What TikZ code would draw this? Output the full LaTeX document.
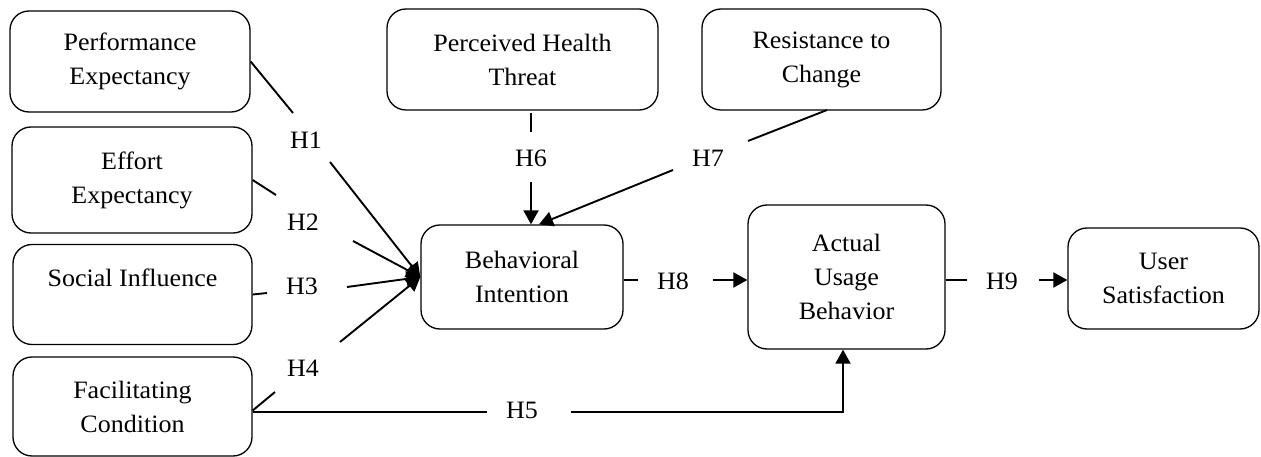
\documentclass[tikz,border=0pt]{standalone}
\usepackage{fontspec}
\setmainfont{Liberation Serif}[FakeStretch=1.04]
\usetikzlibrary{arrows.meta}
\begin{document}
\begin{tikzpicture}[x=1pt,y=-1pt,
  box/.style={draw, line width=1.3pt, rounded corners=19pt, align=center, inner sep=0pt,
    font=\fontsize{25}{34}\selectfont},
  hlab/.style={inner sep=0pt, font=\fontsize{25}{34}\selectfont},
  ln/.style={line width=1.9pt},
  arr/.style={line width=1.9pt, -{Triangle[length=14pt,width=15pt]}}]
\useasboundingbox (0,0) rectangle (1261,457);
% boxes
\node[box, minimum width=240pt, minimum height=101pt] (pe) at (130,61.5) {Performance\\Expectancy};
\node[box, minimum width=240pt, minimum height=106pt] (ee) at (132,180) {Effort\\Expectancy};
\node[box, minimum width=239pt, minimum height=100pt] (si) at (132.5,294.5) {Social Influence\\\mbox{}};
\node[box, minimum width=239pt, minimum height=99pt] (fc) at (132.5,406.5) {Facilitating\\Condition};
\node[box, minimum width=271pt, minimum height=101pt] (pht) at (522.5,59.5) {Perceived Health\\Threat};
\node[box, minimum width=239pt, minimum height=101pt] (rc) at (821.5,59.5) {Resistance to\\Change};
\node[box, minimum width=202pt, minimum height=104pt] (bi) at (522,277) {Behavioral\\Intention};
\node[box, minimum width=197pt, minimum height=144pt] (aub) at (846.5,277) {Actual\\Usage\\Behavior};
\node[box, minimum width=191pt, minimum height=101pt] (us) at (1163.5,278.5) {User\\Satisfaction};
% labels
\node[hlab] (h1) at (306,140) {H1};
\node[hlab] (h2) at (303,222) {H2};
\node[hlab] (h3) at (302,286) {H3};
\node[hlab] (h4) at (303,368) {H4};
\node[hlab] (h5) at (522,410) {H5};
\node[hlab] (h6) at (531,158) {H6};
\node[hlab] (h7) at (708,158) {H7};
\node[hlab] (h8) at (673,281) {H8};
\node[hlab] (h9) at (1002,281) {H9};
% gap coordinates
\coordinate (a1) at (293,113); \coordinate (b1) at (330,162);
\coordinate (a2) at (276,195); \coordinate (b2) at (353,241);
\coordinate (a3) at (267,293); \coordinate (b3) at (347,287);
\coordinate (a4) at (275,392); \coordinate (b4) at (340,342);
\coordinate (a5) at (487,412); \coordinate (b5) at (571,412);
\coordinate (s6) at (531,113); \coordinate (a6) at (531,132); \coordinate (b6) at (531,182);
\coordinate (s7) at (827,110); \coordinate (a7) at (748,141); \coordinate (b7) at (673,170);
\coordinate (a8) at (638,280); \coordinate (b8) at (713,280);
\coordinate (a9) at (967,280); \coordinate (b9) at (1039,280);
% connectors
\draw[ln] (pe.east) -- (a1);
\draw[arr] (b1) -- (bi.west);
\draw[ln] (ee.east) -- (a2);
\draw[arr] (b2) -- (bi.west);
\draw[ln] (si.east) -- (a3);
\draw[arr] (b3) -- (bi.west);
\draw[ln] ([yshift=-4pt]fc.east) -- (a4);
\draw[arr] (b4) -- (bi.west);
\draw[ln] ([yshift=-5.5pt]fc.east) -- (a5);
\draw[arr] (b5) -| ([xshift=-3.5pt]aub.south);
\draw[ln] (s6) -- (a6);
\draw[arr] (b6) -- ([xshift=9pt]bi.north);
\draw[ln] (s7) -- (a7);
\draw[arr] (b7) -- ([xshift=17pt]bi.north);
\draw[ln] ([yshift=-3pt]bi.east) -- (a8);
\draw[arr] (b8) -- ([yshift=-3pt]aub.west);
\draw[ln] ([yshift=-3pt]aub.east) -- (a9);
\draw[arr] (b9) -- ([yshift=-1.5pt]us.west);
\end{tikzpicture}
\end{document}
